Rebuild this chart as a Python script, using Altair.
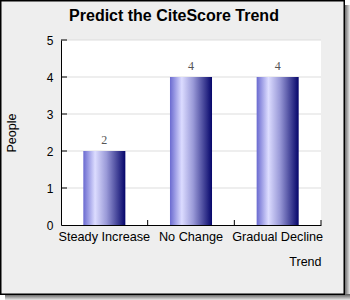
import altair as alt
import pandas as pd

title_text = "Predict the CiteScore Trend"
categories = ["Steady Increase", "No Change", "Gradual Decline"]
people = [2, 4, 4]
y_ticks = [0, 1, 2, 3, 4, 5]

df = pd.DataFrame({"Trend": categories, "People": people})
grid_df = pd.DataFrame({"v": y_ticks[1:]})
one = pd.DataFrame({"a": [0]})
title_df = pd.DataFrame({"t": [title_text]})

W, H = 260, 185
L, T = 61, 40

yscale = alt.Scale(domain=[0, 5])
xscale = alt.Scale(paddingInner=0, paddingOuter=0)
xaxis = alt.Axis(title="Trend", titleAnchor="end", labelAngle=0,
                 ticks=False, grid=False, zindex=1,
                 labelFont="Liberation Sans", labelFontSize=12.7,
                 labelColor="#000", labelPadding=5,
                 titleFont="Liberation Sans", titleFontSize=12.5,
                 titleFontWeight="normal", titleColor="#000",
                 titlePadding=13, domainColor="#000")
yaxis = alt.Axis(title="People", values=y_ticks, tickCount=6,
                 ticks=False, grid=False,
                 labelOverlap=False, zindex=1,
                 labelFont="Liberation Sans", labelFontSize=12,
                 labelColor="#000", labelPadding=8,
                 titleFont="Liberation Sans", titleFontSize=12.5,
                 titleFontWeight="normal", titleColor="#000",
                 titlePadding=28, domainColor="#000")

# frame and shadow
shadow_r = alt.Chart(one).mark_rect(
    fill=alt.Gradient(gradient="linear", x1=0, x2=1, y1=0, y2=0,
                      stops=[alt.GradientStop(offset=0, color="#555555"),
                             alt.GradientStop(offset=1, color="#e8e8e8")])
).encode(x=alt.value(344 - L), x2=alt.value(350 - L),
         y=alt.value(5 - T), y2=alt.value(300 - T))
shadow_b = alt.Chart(one).mark_rect(
    fill=alt.Gradient(gradient="linear", x1=0, x2=0, y1=0, y2=1,
                      stops=[alt.GradientStop(offset=0, color="#555555"),
                             alt.GradientStop(offset=1, color="#e8e8e8")])
).encode(x=alt.value(5 - L), x2=alt.value(350 - L),
         y=alt.value(294 - T), y2=alt.value(300 - T))
frame = alt.Chart(one).mark_rect(fill="#eeeeee", stroke="#000000", strokeWidth=1.5).encode(
    x=alt.value(0.75 - L), x2=alt.value(344.25 - L),
    y=alt.value(0.75 - T), y2=alt.value(294.25 - T))
plotbg = alt.Chart(one).mark_rect(fill="#ffffff").encode(
    x=alt.value(0), x2=alt.value(W), y=alt.value(0), y2=alt.value(H))

title = alt.Chart(title_df).mark_text(
    font="Liberation Sans", fontSize=16, fontWeight="bold", color="#000",
    align="center", baseline="middle"
).encode(x=alt.value(174 - L), y=alt.value(16 - T), text="t:N")

grid = alt.Chart(grid_df).mark_rule(color="#dddddd", strokeWidth=1).encode(
    y=alt.Y("v:Q", scale=yscale, axis=yaxis),
    x=alt.value(0), x2=alt.value(W))

bars = alt.Chart(df).mark_bar(
    width=alt.RelativeBandSize(0.485),
    fill=alt.Gradient(gradient="linear", x1=0, x2=1, y1=0, y2=0,
                      stops=[alt.GradientStop(offset=0, color="#6a6ad0"),
                             alt.GradientStop(offset=0.28, color="#dcdcff"),
                             alt.GradientStop(offset=0.55, color="#9a9ad8"),
                             alt.GradientStop(offset=1, color="#05056a")])
).encode(
    x=alt.X("Trend:N", sort=categories, scale=xscale, axis=xaxis),
    y=alt.Y("People:Q", scale=yscale, axis=yaxis))

ytick = alt.Chart(grid_df).mark_rule(color="#000000", strokeWidth=1).encode(
    y=alt.Y("v:Q", scale=yscale, axis=yaxis),
    x=alt.value(0), x2=alt.value(6))

labels = alt.Chart(df).mark_text(
    font="Liberation Serif", fontSize=12, color="#555555", baseline="bottom", dy=-4
).encode(x=alt.X("Trend:N", sort=categories, scale=xscale, axis=xaxis),
         y=alt.Y("People:Q", scale=yscale, axis=yaxis),
         text="People:Q")

xtick = alt.Chart(df).mark_rule(color="#000000", strokeWidth=1).encode(
    x=alt.X("Trend:N", sort=categories, bandPosition=1, scale=xscale, axis=xaxis),
    y=alt.value(H - 5), y2=alt.value(H))

chart = alt.layer(shadow_r, shadow_b, frame, plotbg, title, grid, bars, labels, ytick, xtick).properties(
    width=W, height=H,
    autosize=alt.AutoSizeParams(type="none"),
    padding={"left": L, "top": T, "right": 350 - L - W, "bottom": 300 - T - H},
).configure(background="#ffffff").configure_view(stroke=None, fill=None)

chart.save("out.html", embed_options={"renderer": "svg", "actions": False})
